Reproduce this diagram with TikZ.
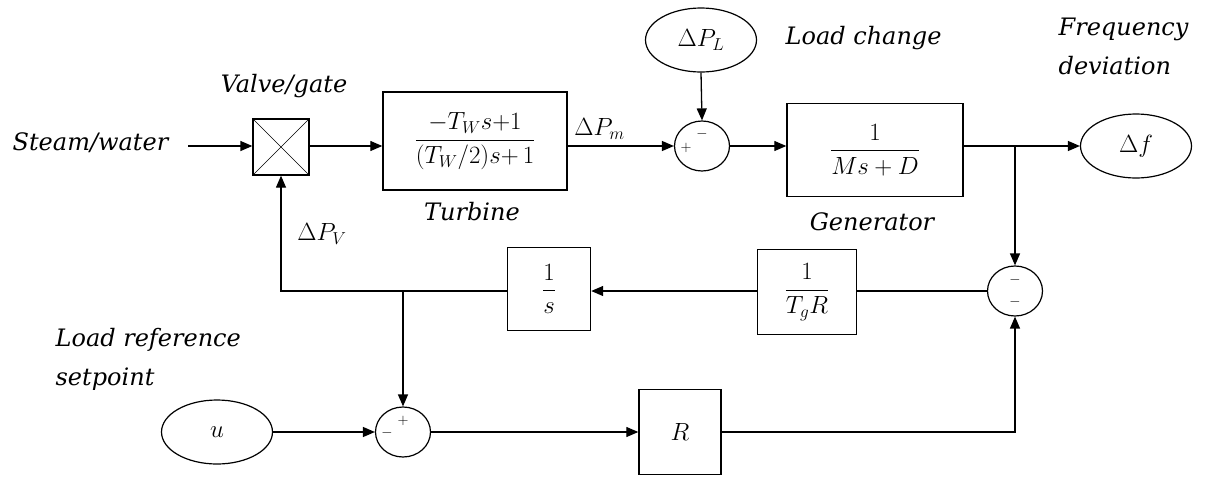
\documentclass[tikz,border=0pt]{standalone}
\usepackage{amsmath}
\usepackage{fontspec}
\setmainfont{DejaVu Serif}
\usetikzlibrary{arrows.meta,shapes.geometric}
\begin{document}
\begin{tikzpicture}[x=1pt,y=-1pt,
  line width=1.3pt,
  >={Triangle[length=12pt,width=10pt]},
  blk/.style={draw,line width=1.4pt,minimum width=#1,inner sep=0pt},
  oval/.style={draw,ellipse,line width=1.2pt,minimum width=111pt,minimum height=64pt,inner sep=0pt,font=\fontsize{24}{26}\selectfont},
  sumj/.style={draw,ellipse,line width=1.2pt,minimum width=55pt,minimum height=50pt,inner sep=0pt},
  lbl/.style={font=\fontsize{24}{39}\selectfont\itshape,align=left,inner sep=0pt},
  mth/.style={font=\fontsize{24}{28}\selectfont},
  sgn/.style={font=\fontsize{15}{15}\selectfont,inner sep=0pt}
]
\useasboundingbox (0,0) rectangle (1207,480);

% text labels
\node[lbl,anchor=west] (steam) at (12,143) {Steam/water};
\node[lbl] (valvelbl) at (284,86) {Valve/gate};
\node[lbl,anchor=west] (loadch) at (785,38) {Load change};
\node[lbl,anchor=north west] (freq) at (1058,17) {Frequency\\deviation};
\node[lbl] (turblbl) at (472,212) {Turbine};
\node[lbl] (genlbl) at (872,222) {Generator};
\node[lbl,anchor=north west] (lref) at (55,328) {Load reference\\setpoint};

% blocks
\node[draw,line width=1.3pt,minimum width=56pt,minimum height=56pt,inner sep=0pt] (valve) at (281,147) {};
\draw[line width=0.6pt] (valve.north west) -- (valve.south east) (valve.north east) -- (valve.south west);

\node[blk=184pt,minimum height=98pt,mth] (turb) at (475,141)
  {$\dfrac{-T_W s{+}1}{(T_W/2)s{+}\,1}$};
\node[blk=176pt,minimum height=93pt,mth] (gen) at (875,150)
  {$\dfrac{1}{Ms+D}$};
\node[blk=99pt,minimum height=85pt,mth] (tgr) at (807,292)
  {$\dfrac{1}{T_g R}$};
\node[blk=83pt,minimum height=83pt,mth] (integ) at (549,289)
  {$\dfrac{1}{s}$};
\node[blk=82pt,minimum height=85pt,mth] (rb) at (680,432)
  {$R$};

% ovals
\node[oval] (dpl) at (701,40) {$\Delta P_L$};
\node[oval] (df) at (1136,146) {$\Delta f$};
\node[oval] (u) at (217,432) {$u$};

% summing junctions
\node[sumj] (s1) at (702,146) {};
\node[sgn] at ([xshift=-16pt,yshift=-2pt]s1.center) {$+$};
\node[sgn] at ([yshift=12pt]s1.center) {$-$};
\node[sumj] (s2) at (1015,291) {};
\node[sgn] at ([yshift=11pt]s2.center) {$-$};
\node[sgn] at ([yshift=-11pt]s2.center) {$-$};
\node[sumj] (s3) at (403,432) {};
\node[sgn] at ([xshift=-16pt,yshift=-1pt]s3.center) {$-$};
\node[sgn] at ([yshift=11pt]s3.center) {$+$};

% helper coordinates
\coordinate (stst) at (188,146);
\coordinate (br) at (1015,146);
\coordinate (lc) at (281,291);
\coordinate (jn) at (403,291);
\coordinate (rc) at (1015,432);

% connectors
\draw[->] (stst) -- (stst -| valve.west);
\draw[->] (valve.east |- s1.west) -- (turb.west |- s1.west);
\draw[->] (turb.east |- s1.west) -- (s1.west) node[pos=0.3,above,mth,yshift=3pt] (dpm) {$\Delta P_m$};
\draw[->] (dpl.south) -- (s1.north);
\draw[->] (s1.east) -- (gen.west |- s1.east);
\draw[->] (gen.east |- df.west) -- (df.west);
\draw[->] (br) -- (s2.north);
\draw (s2.west) -- (tgr.east |- s2.west);
\draw[->] (tgr.west |- s2.west) -- (integ.east |- s2.west);
\draw[->] (integ.west |- lc) -- (lc) -- (valve.south);
\node[mth] (dpv) at (322,234) {$\Delta P_V$};
\draw[->] (jn) -- (s3.north);
\draw[->] (u.east) -- (s3.west);
\draw[->] (s3.east) -- (rb.west);
\draw[->] (rb.east) -- (rc) -- (s2.south);
\end{tikzpicture}
\end{document}
